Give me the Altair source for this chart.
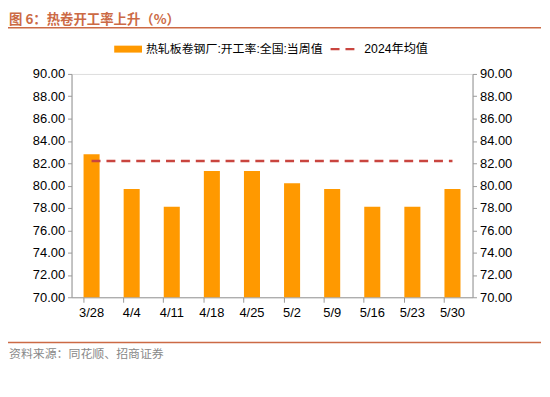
import altair as alt
import pandas as pd

dates = ["3/28", "4/4", "4/11", "4/18", "4/25", "5/2", "5/9", "5/16", "5/23", "5/30"]
rates = [82.8, 79.7, 78.1, 81.3, 81.3, 80.2, 79.7, 78.1, 78.1, 79.7]
avg_2024 = [82.2] * len(dates)
y_ticks = [70, 72, 74, 76, 78, 80, 82, 84, 86, 88, 90]

title_text = "图 6：热卷开工率上升（%）"
series_bar = "热轧板卷钢厂:开工率:全国:当周值"
series_line = "2024年均值"
source_text = "资料来源：同花顺、招商证券"

FONT = "Liberation Sans, Arial, 'Noto Sans CJK SC'"
CJK = "'Noto Sans CJK SC'"
BAR = "#FF9900"
LINE = "#C9453F"
ACCENT = "#CC6A45"

df = pd.DataFrame({"date": dates, "rate": rates, "avg": avg_2024})

W, H = 404, 225
yscale = alt.Scale(domain=[70, 90], nice=False, zero=False)
xenc = alt.X("date:N", sort=dates, title=None,
             scale=alt.Scale(paddingInner=0.6, paddingOuter=0.3),
             axis=alt.Axis(labelAngle=0, labelFont=FONT, labelFontSize=13, labelColor="#000",
                           domainColor="#999", tickColor="#999", tickSize=5, bandPosition=0,
                           labelPadding=4))

bars = alt.Chart(df).mark_bar(color=BAR).encode(
    x=xenc,
    y=alt.Y("rate:Q", scale=yscale, title=None,
            axis=alt.Axis(orient="left", values=y_ticks, format=".2f", grid=False,
                          labelFont=FONT, labelFontSize=13, labelColor="#000",
                          domainColor="#999", tickColor="#999", tickSize=4, labelPadding=3)),
    y2=alt.datum(70),
)

line = alt.Chart(df).mark_line(color=LINE, strokeDash=[9, 6], strokeWidth=2.5).encode(
    x=alt.X("date:N", sort=dates),
    y=alt.Y("avg:Q", scale=yscale, title=None,
            axis=alt.Axis(orient="right", values=y_ticks, format=".2f", grid=False,
                          labelFont=FONT, labelFontSize=13, labelColor="#000",
                          domainColor="#999", tickColor="#999", tickSize=4, labelPadding=3)),
)

one = pd.DataFrame({"k": [0]})
base = alt.Chart(one)

title_mark = base.mark_text(align="left", baseline="middle", font=CJK, fontSize=13.5,
                            fontWeight="bold", color=ACCENT).encode(
    x=alt.value(-63), y=alt.value(-54.5), text=alt.value(title_text))
title_rule = base.mark_rule(color=ACCENT, strokeWidth=1.5).encode(
    x=alt.value(-64), x2=alt.value(473), y=alt.value(-46.5))
src_rule = base.mark_rule(color=ACCENT, strokeWidth=1.5).encode(
    x=alt.value(-64), x2=alt.value(473), y=alt.value(270.5))
src_mark = base.mark_text(align="left", baseline="middle", font=CJK, fontSize=12,
                          color="#888").encode(
    x=alt.value(-63), y=alt.value(282), text=alt.value(source_text))

leg_rect = base.mark_rect(color=BAR).encode(
    x=alt.value(43), x2=alt.value(71), y=alt.value(-28.5), y2=alt.value(-21.5))
leg_text1 = base.mark_text(align="left", baseline="middle", font=FONT, fontSize=12,
                           color="#000").encode(
    x=alt.value(75), y=alt.value(-25), text=alt.value(series_bar))
leg_line = base.mark_rule(color=LINE, strokeDash=[9, 6], strokeWidth=2.5).encode(
    x=alt.value(261), x2=alt.value(288), y=alt.value(-25))
leg_text2 = base.mark_text(align="left", baseline="middle", font=FONT, fontSize=12.3,
                           color="#000").encode(
    x=alt.value(295), y=alt.value(-25), text=alt.value(series_line))

chart = alt.layer(
    bars, line, title_mark, title_rule, src_rule, src_mark,
    leg_rect, leg_text1, leg_line, leg_text2,
).resolve_axis(y="independent").properties(
    width=W, height=H,
    autosize=alt.AutoSizeParams(type="none"),
    padding={"left": 64, "top": 65, "right": 70, "bottom": 92},
).configure_view(stroke=None).configure(background="white")

chart.save("out.html", embed_options={"renderer": "svg", "actions": False})
